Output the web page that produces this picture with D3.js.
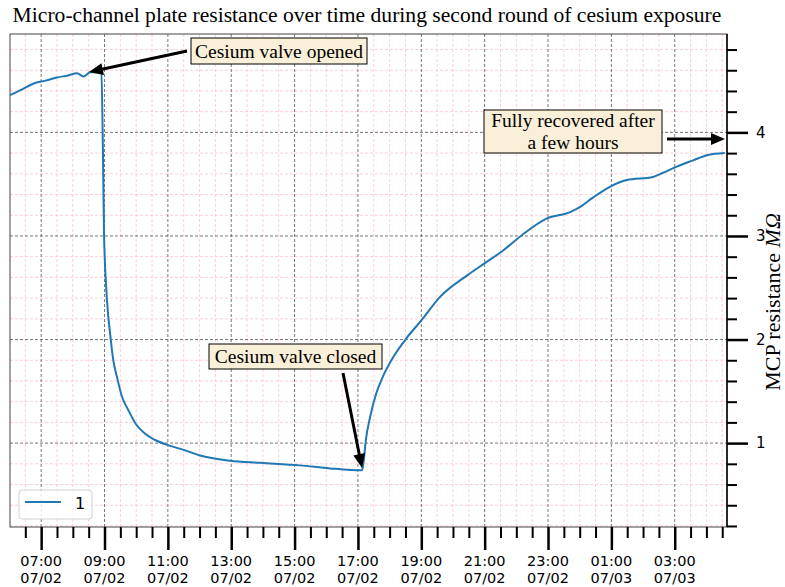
<!DOCTYPE html>
<html>
<head>
<meta charset="utf-8">
<script src="https://cdn.jsdelivr.net/npm/d3@7"></script>
<style>
body { margin: 0; background: #fff; }
svg { display: block; }
</style>
</head>
<body>
<div id="chart"></div>
<script>
// time stamps (month/day hour:minute)
var times = ["07/02 06:01","07/02 06:24","07/02 06:45","07/02 07:08","07/02 07:30","07/02 07:51","07/02 08:08","07/02 08:20","07/02 08:33","07/02 08:50","07/02 08:54","07/02 08:57","07/02 08:59","07/02 09:03","07/02 09:07","07/02 09:11","07/02 09:16","07/02 09:24","07/02 09:33","07/02 09:45","07/02 10:00","07/02 10:17","07/02 10:36","07/02 11:00","07/02 11:33","07/02 12:01","07/02 12:58","07/02 13:55","07/02 15:10","07/02 16:07","07/02 17:08","07/02 17:11","07/02 17:15","07/02 17:23","07/02 17:34","07/02 17:47","07/02 18:08","07/02 18:33","07/02 19:01","07/02 19:35","07/02 20:27","07/02 21:01","07/02 21:35","07/02 22:11","07/02 22:58","07/02 23:42","07/03 00:01","07/03 00:25","07/03 00:52","07/03 01:29","07/03 02:19","07/03 02:38","07/03 03:04","07/03 03:35","07/03 04:01","07/03 04:35"];
// MCP resistance, MOhm
var resistance = [4.36,4.415,4.47,4.50,4.53,4.55,4.57,4.54,4.58,4.58,4.57,3.83,3.05,2.52,2.23,2.04,1.82,1.63,1.45,1.32,1.18,1.09,1.03,0.98,0.93,0.88,0.83,0.81,0.785,0.756,0.737,0.83,1.03,1.25,1.47,1.64,1.84,2.02,2.19,2.41,2.62,2.74,2.86,3.01,3.17,3.23,3.28,3.37,3.46,3.54,3.57,3.61,3.67,3.73,3.78,3.80];
var yMajor = [1, 2, 3, 4];
var yMinor = [0.2,0.4,0.6,0.8,1.2,1.4,1.6,1.8,2.2,2.4,2.6,2.8,3.2,3.4,3.6,3.8,4.2,4.4,4.6,4.8];
var xRange = ["07/02 06:01", "07/03 04:39"];
var yRange = [0.19, 4.95];

var notes = [
	{ lines: ["Cesium valve opened"], box: [191, 38, 367, 64], from: [187, 51], to: [89, 72] },
	{ lines: ["Fully recovered after", "a few hours"], box: [484, 110, 662, 153], from: [667, 139], to: [725, 139] },
	{ lines: ["Cesium valve closed"], box: [209, 344, 382, 369], from: [343, 373], to: [362, 468] }
];

function draw() {
	var W = 785, H = 587;
	var pL = 10, pR = 727, pT = 34, pB = 527;
	var parse = d3.timeParse("%m/%d %H:%M");

	var data = times.map(function(t, i) { return { t: parse(t), v: resistance[i] }; });

	var x = d3.scaleTime().domain(xRange.map(parse)).range([pL, pR]);
	var y = d3.scaleLinear().domain(yRange).range([pB, pT]);

	var svg = d3.select("#chart").append("svg").attr("width", W).attr("height", H);

	var majorTimes = x.ticks(d3.timeHour.filter(function(d) { return d.getHours() % 2 == 1; }));
	var minorTimes = x.ticks(d3.timeMinute.every(30)).filter(function(d) { return !(d.getMinutes() == 0 && d.getHours() % 2 == 1); });

	// grid
	var grid = svg.append("g");
	grid.selectAll(".vmin").data(minorTimes).enter().append("line")
		.attr("x1", function(d) { return x(d); }).attr("x2", function(d) { return x(d); })
		.attr("y1", pT).attr("y2", pB)
		.attr("stroke", "#ffc0cb").attr("stroke-width", 0.8).attr("stroke-dasharray", "3,2");
	grid.selectAll(".hmin").data(yMinor).enter().append("line")
		.attr("x1", pL).attr("x2", pR)
		.attr("y1", function(d) { return y(d); }).attr("y2", function(d) { return y(d); })
		.attr("stroke", "#ffc0cb").attr("stroke-width", 0.8).attr("stroke-dasharray", "3,2");
	grid.selectAll(".vmaj").data(majorTimes).enter().append("line")
		.attr("x1", function(d) { return x(d); }).attr("x2", function(d) { return x(d); })
		.attr("y1", pT).attr("y2", pB)
		.attr("stroke", "#555").attr("stroke-width", 0.8).attr("stroke-dasharray", "3,2");
	grid.selectAll(".hmaj").data(yMajor).enter().append("line")
		.attr("x1", pL).attr("x2", pR)
		.attr("y1", function(d) { return y(d); }).attr("y2", function(d) { return y(d); })
		.attr("stroke", "#555").attr("stroke-width", 0.8).attr("stroke-dasharray", "3,2");

	// frame
	svg.append("rect").attr("x", pL).attr("y", pT).attr("width", pR - pL).attr("height", pB - pT)
		.attr("fill", "none").attr("stroke", "#444").attr("stroke-width", 1);

	// curve
	var line = d3.line().x(function(d) { return x(d.t); }).y(function(d) { return y(d.v); }).curve(d3.curveMonotoneX);
	svg.append("path").datum(data).attr("d", line)
		.attr("fill", "none").attr("stroke", "#1f77b4").attr("stroke-width", 2).attr("stroke-linejoin", "round");

	// bottom axis
	var xAxis = svg.append("g").attr("transform", "translate(0," + pB + ")");
	xAxis.append("g").attr("class", "maj").call(d3.axisBottom(x).tickValues(majorTimes).tickSize(23).tickFormat(""));
	xAxis.append("g").attr("class", "min").call(d3.axisBottom(x).tickValues(minorTimes).tickSize(11).tickFormat(""));
	xAxis.selectAll(".domain").remove();
	xAxis.selectAll(".min .tick line").attr("stroke", "#000").attr("stroke-width", 2);
	xAxis.selectAll(".maj .tick line").attr("stroke", "#000").attr("stroke-width", 2.5);
	var fmtH = d3.timeFormat("%H:%M"), fmtD = d3.timeFormat("%m/%d");
	var xl = svg.append("g").selectAll("text").data(majorTimes).enter().append("text")
		.attr("text-anchor", "middle")
		.attr("font-family", "DejaVu Sans").attr("font-size", "14.5px").attr("fill", "#000");
	xl.append("tspan").attr("x", function(d) { return x(d); }).attr("y", 566).text(function(d) { return fmtH(d); });
	xl.append("tspan").attr("x", function(d) { return x(d); }).attr("y", 583).text(function(d) { return fmtD(d); });

	// right axis
	var yAxis = svg.append("g").attr("transform", "translate(" + pR + ",0)");
	yAxis.append("g").attr("class", "maj").call(d3.axisRight(y).tickValues(yMajor).tickSize(21).tickPadding(8).tickFormat(d3.format("d")));
	yAxis.append("g").attr("class", "min").call(d3.axisRight(y).tickValues(yMinor).tickSize(10).tickFormat(""));
	yAxis.selectAll(".domain").remove();
	yAxis.selectAll(".min .tick line").attr("stroke", "#000").attr("stroke-width", 2);
	yAxis.selectAll(".maj .tick line").attr("stroke", "#000").attr("stroke-width", 2.5);
	yAxis.selectAll("text").attr("font-family", "DejaVu Sans").attr("font-size", "15px").attr("fill", "#000");
	svg.append("line").attr("x1", pR).attr("x2", pR).attr("y1", pT).attr("y2", pB)
		.attr("stroke", "#000").attr("stroke-width", 1.5);

	// y label
	var yl = svg.append("text").attr("transform", "translate(780,302) rotate(-90)")
		.attr("text-anchor", "middle").attr("font-family", "Liberation Serif").attr("font-size", "22px");
	yl.append("tspan").text("MCP resistance ");
	yl.append("tspan").attr("font-style", "italic").text("MΩ");

	// title
	svg.append("text").attr("x", 367).attr("y", 22).attr("text-anchor", "middle")
		.attr("font-family", "Liberation Serif").attr("font-size", "21.6px")
		.text("Micro-channel plate resistance over time during second round of cesium exposure");

	// legend
	var lg = svg.append("g");
	lg.append("rect").attr("x", 19).attr("y", 490).attr("width", 73).attr("height", 29).attr("rx", 3)
		.attr("fill", "#fff").attr("fill-opacity", 0.8).attr("stroke", "#d0d0d0");
	lg.append("line").attr("x1", 25).attr("x2", 61).attr("y1", 502).attr("y2", 502).attr("stroke", "#1f77b4").attr("stroke-width", 2);
	lg.append("text").attr("x", 75).attr("y", 509).attr("font-family", "DejaVu Sans").attr("font-size", "16px").text("1");

	// annotations
	notes.forEach(function(n) {
		var g = svg.append("g");
		var dx = n.to[0] - n.from[0], dy = n.to[1] - n.from[1];
		var len = Math.sqrt(dx * dx + dy * dy), ux = dx / len, uy = dy / len;
		var hl = 14, hw = 6;
		var bx = n.to[0] - ux * hl, by = n.to[1] - uy * hl;
		g.append("line").attr("x1", n.from[0]).attr("y1", n.from[1]).attr("x2", bx + ux * 2).attr("y2", by + uy * 2)
			.attr("stroke", "#000").attr("stroke-width", 3);
		g.append("path").attr("d", "M" + n.to[0] + "," + n.to[1] +
			"L" + (bx - uy * hw) + "," + (by + ux * hw) +
			"L" + (bx + uy * hw) + "," + (by - ux * hw) + "Z").attr("fill", "#000");
		var b = n.box;
		g.append("rect").attr("x", b[0]).attr("y", b[1]).attr("width", b[2] - b[0]).attr("height", b[3] - b[1])
			.attr("fill", "#faefd9").attr("stroke", "#000").attr("stroke-width", 1);
		var cx = (b[0] + b[2]) / 2, cy = (b[1] + b[3]) / 2;
		var lh = 22;
		n.lines.forEach(function(s, i) {
			g.append("text").attr("x", cx).attr("y", cy + (i - (n.lines.length - 1) / 2) * lh + 6.5)
				.attr("text-anchor", "middle").attr("font-family", "Liberation Serif").attr("font-size", "19.5px").text(s);
		});
	});
}
draw();
</script>
</body>
</html>
